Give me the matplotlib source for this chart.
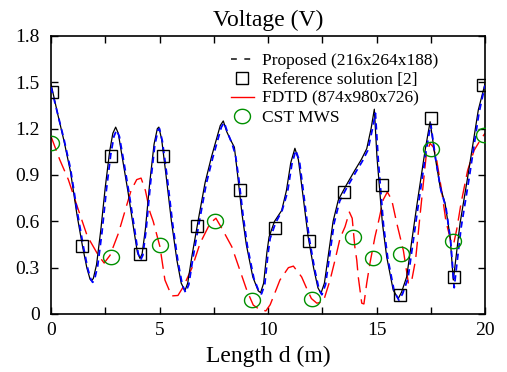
import matplotlib
matplotlib.use("Agg")
import matplotlib.pyplot as plt
from matplotlib.lines import Line2D
from matplotlib.path import Path
import numpy as np

plt.rcParams['font.family'] = ['Liberation Serif', 'DejaVu Serif']
plt.rcParams['mathtext.fontset'] = 'stix'

# ---- data ----
ref_x = [0, 0.3, 0.6, 0.9, 1.2, 1.45, 1.65, 1.8, 1.87, 1.95, 2.1, 2.3, 2.5, 2.7, 2.85, 2.98,
         3.1, 3.3, 3.55, 3.8, 3.98, 4.1, 4.2, 4.35, 4.55, 4.75, 4.9, 4.97, 5.1, 5.3, 5.55,
         5.8, 6.0, 6.17, 6.3, 6.5, 6.8, 7.1, 7.4, 7.6, 7.8, 7.94, 8.1, 8.3, 8.45, 8.6, 8.8,
         9.0, 9.3, 9.55, 9.66, 9.8, 9.95, 10.05, 10.3, 10.63, 10.85, 11.05, 11.24, 11.4,
         11.6, 11.85, 12.1, 12.3, 12.44, 12.6, 12.8, 13.0, 13.24, 13.55, 14.0, 14.3, 14.55,
         14.75, 14.9, 15.02, 15.27, 15.47, 15.77, 16.0, 16.15, 16.39, 16.85, 17.24, 17.47,
         17.7, 17.93, 18.16, 18.39, 18.54, 18.65, 18.85, 19.23, 19.69, 20.0]
ref_y = [1.49, 1.3, 1.12, 0.92, 0.64, 0.44, 0.3, 0.225, 0.216, 0.23, 0.32, 0.55, 0.82, 1.05,
         1.17, 1.21, 1.17, 1.0, 0.79, 0.56, 0.40, 0.36, 0.39, 0.55, 0.85, 1.1, 1.2, 1.21, 1.13,
         0.9, 0.6, 0.35, 0.2, 0.15, 0.2, 0.38, 0.62, 0.85, 1.02, 1.12, 1.22, 1.25, 1.18, 1.12,
         1.08, 0.9, 0.65, 0.45, 0.24, 0.15, 0.138, 0.2, 0.4, 0.5, 0.6, 0.67, 0.8, 0.98, 1.073,
         1.0, 0.78, 0.5, 0.3, 0.17, 0.134, 0.2, 0.4, 0.6, 0.738, 0.82, 0.93, 1.0, 1.07, 1.2,
         1.326, 1.02, 0.59, 0.37, 0.155, 0.10, 0.14, 0.24, 0.695, 1.06, 1.245, 1.02, 0.825,
         0.717, 0.50, 0.22, 0.35, 0.587, 0.91, 1.32, 1.49]

prop_x = [0, 0.3, 0.6, 0.9, 1.2, 1.5, 1.7, 1.85, 1.92, 2.0, 2.15, 2.35, 2.55, 2.75, 2.9, 3.02,
          3.15, 3.35, 3.6, 3.85, 4.02, 4.13, 4.23, 4.38, 4.58, 4.78, 4.93, 5.0, 5.13, 5.35,
          5.6, 5.85, 6.05, 6.2, 6.35, 6.55, 6.85, 7.15, 7.45, 7.65, 7.85, 7.98, 8.15, 8.35,
          8.5, 8.65, 8.85, 9.05, 9.35, 9.6, 9.7, 9.85, 10.0, 10.1, 10.35, 10.65, 10.9, 11.1,
          11.28, 11.45, 11.65, 11.9, 12.15, 12.35, 12.48, 12.65, 12.85, 13.05, 13.3, 13.6,
          14.05, 14.35, 14.6, 14.8, 14.95, 15.08, 15.32, 15.52, 15.82, 16.03, 16.2, 16.45,
          16.9, 17.28, 17.5, 17.73, 17.97, 18.2, 18.42, 18.58, 18.7, 18.9, 19.28, 19.72, 20.0]
prop_y = [1.47, 1.3, 1.13, 0.94, 0.67, 0.43, 0.29, 0.22, 0.205, 0.22, 0.31, 0.53, 0.8, 1.03,
          1.15, 1.19, 1.15, 0.99, 0.78, 0.55, 0.39, 0.35, 0.38, 0.54, 0.84, 1.09, 1.19, 1.2,
          1.12, 0.89, 0.59, 0.34, 0.19, 0.14, 0.19, 0.37, 0.61, 0.84, 1.01, 1.11, 1.21, 1.24,
          1.17, 1.1, 1.03, 0.88, 0.64, 0.44, 0.23, 0.14, 0.13, 0.19, 0.39, 0.49, 0.59, 0.67,
          0.79, 0.97, 1.06, 0.99, 0.77, 0.49, 0.29, 0.16, 0.125, 0.19, 0.39, 0.59, 0.73, 0.81,
          0.92, 0.99, 1.06, 1.19, 1.3, 1.0, 0.58, 0.36, 0.145, 0.09, 0.13, 0.23, 0.68, 1.05,
          1.23, 1.0, 0.8, 0.69, 0.47, 0.17, 0.32, 0.56, 0.89, 1.3, 1.48]

fdtd_x = [0, 0.4, 0.8, 1.2, 1.67, 2.18, 2.45, 2.72, 3.1, 3.69, 3.95, 4.15, 4.35, 4.56, 4.71,
          5.02, 5.25, 5.56, 5.85, 6.1, 6.5, 6.87, 7.33, 7.6, 7.87, 8.33, 9.02, 9.32, 9.6, 9.9,
          10.1, 10.4, 10.55, 10.94, 11.17, 11.55, 11.8, 12.0, 12.25, 12.55, 12.86, 13.09, 13.32,
          13.55, 13.75, 13.88, 14.0, 14.09, 14.16, 14.32, 14.42, 14.55, 14.7, 14.93, 15.08,
          15.31, 15.5, 15.7, 15.93, 16.24, 16.47, 16.6, 16.8, 17.0, 17.3, 17.47, 17.62, 17.77,
          18.0, 18.2, 18.45, 18.55, 18.7, 18.9, 19.2, 19.5, 19.8, 20.0]
fdtd_y = [1.15, 1.0, 0.87, 0.7, 0.505, 0.38, 0.33, 0.38, 0.52, 0.80, 0.87, 0.88, 0.8, 0.66,
          0.6, 0.436, 0.22, 0.117, 0.12, 0.177, 0.3, 0.458, 0.587, 0.62, 0.555, 0.436, 0.155,
          0.058, 0.03, 0.02, 0.06, 0.166, 0.22, 0.30, 0.31, 0.24, 0.16, 0.1, 0.07, 0.08, 0.22,
          0.35, 0.49, 0.565, 0.66, 0.62, 0.436, 0.35, 0.24, 0.07, 0.065, 0.2, 0.33, 0.5, 0.59,
          0.74, 0.79, 0.74, 0.59, 0.41, 0.2, 0.2, 0.35, 0.63, 1.04, 1.105, 1.08, 1.0, 0.8,
          0.6, 0.46, 0.45, 0.55, 0.72, 0.93, 1.06, 1.13, 1.17]

sq_x = [0.03, 1.41, 2.76, 4.10, 5.16, 6.74, 8.71, 10.32, 11.90, 13.52, 15.24, 16.08, 17.51,
        18.59, 19.92]
sq_y = [1.44, 0.44, 1.02, 0.39, 1.025, 0.57, 0.80, 0.56, 0.47, 0.79, 0.835, 0.123, 1.267,
        0.24, 1.48]

cst_x = [0.0, 2.76, 5.02, 7.56, 9.25, 12.01, 13.93, 14.82, 16.11, 17.51, 18.54, 19.97]
cst_y = [1.11, 0.37, 0.447, 0.60, 0.09, 0.097, 0.497, 0.365, 0.39, 1.07, 0.475, 1.16]

labels = ['Proposed (216x264x188)', 'Reference solution [2]', 'FDTD (874x980x726)', 'CST MWS']
xticks_major = [0, 5, 10, 15, 20]
xticks_minor = [2.5, 7.5, 12.5, 17.5]
yticks = [0, 0.3, 0.6, 0.9, 1.2, 1.5, 1.8]
ytick_labels = ['0', '0.3', '0.6', '0.9', '1.2', '1.5', '1.8']

# ---- figure ----
fig = plt.figure(figsize=(5.07, 3.72), dpi=100)
ax = fig.add_axes([51/507, 58/372, 434/507, 278/372])

# elliptical circle marker (slightly wider than tall)
t = np.linspace(0, 2*np.pi, 60)
ell = Path(np.column_stack([np.cos(t), 0.9*np.sin(t)]), closed=True)

ax.plot(fdtd_x, fdtd_y, color='#ff0000', lw=1.0, linestyle=(0, (11, 5)), zorder=2)
ax.plot(ref_x, ref_y, color='black', lw=0.9, zorder=3)
ax.plot(prop_x, prop_y, color='#0000ff', lw=1.3, linestyle=(0, (3.5, 2.5)), zorder=4)
ax.plot(sq_x, sq_y, linestyle='none', marker='s', markersize=9, markerfacecolor='none',
        markeredgecolor='black', markeredgewidth=1.0, zorder=5)
ax.plot(cst_x, cst_y, linestyle='none', marker=ell, markersize=11.5, markerfacecolor='none',
        markeredgecolor='#009000', markeredgewidth=1.0, zorder=5)

ax.set_xlim(0, 20)
ax.set_ylim(0, 1.8)
ax.set_xticks(xticks_major)
ax.set_xticklabels([str(v) for v in xticks_major])
ax.set_xticks(xticks_minor, minor=True)
ax.set_yticks(yticks)
ax.set_yticklabels(ytick_labels)
ax.tick_params(axis='both', which='both', direction='in', length=5, width=1.0,
               top=True, right=True, labelsize=14)
ax.tick_params(axis='y', pad=8)
ax.tick_params(axis='x', pad=6)
for s in ax.spines.values():
    s.set_linewidth(1.2)

ax.set_title('Voltage (V)', fontsize=17, pad=7)
ax.set_xlabel('Length d (m)', fontsize=17, labelpad=5)

handles = [
    Line2D([], [], color='#222222', lw=1.2, linestyle=(0, (3.5, 4.5))),
    Line2D([], [], linestyle='none', marker='s', markersize=9, markerfacecolor='none',
           markeredgecolor='black', markeredgewidth=1.0),
    Line2D([], [], color='#ff0000', lw=1.0),
    Line2D([], [], linestyle='none', marker=ell, markersize=11.5, markerfacecolor='none',
           markeredgecolor='#009000', markeredgewidth=1.0),
]
ax.legend(handles, labels, loc='upper left', bbox_to_anchor=(0.415, 0.94), frameon=False,
          fontsize=12.5, handlelength=1.3, handletextpad=0.5, labelspacing=0.16,
          borderpad=0, borderaxespad=0, numpoints=1)

fig.savefig('out.png', dpi=100)
